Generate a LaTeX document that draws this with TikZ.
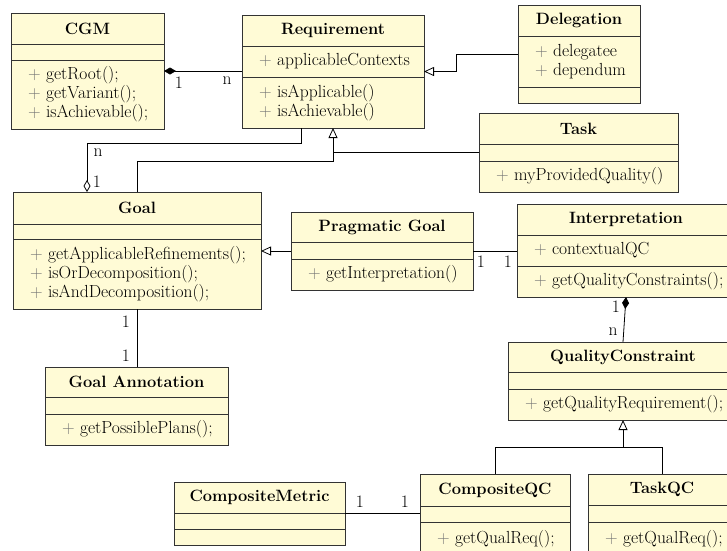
\documentclass[tikz,border=0pt]{standalone}
\usepackage{fontspec}
\usetikzlibrary{arrows.meta}
\definecolor{boxfill}{HTML}{FFFBD6}
\definecolor{boxline}{HTML}{333333}
\newcommand\bxplus{{\color{black!55}+}\ }
\newcommand\classbox[5]{%
  \def\bxn{#1}\def\bxl{#2}\def\bxt{#3}\def\bxr{#4}\def\bxb{#5}%
  \pgfmathsetmacro\bxw{#4-#2}\pgfmathsetmacro\bxh{#5-#3}%
  \node[classrect, minimum width=\bxw pt, minimum height=\bxh pt, anchor=north west] (#1) at (#2,#3) {};}
\newcommand\compart[5]{%
  \draw[sepline] (\bxl,#1) -- (\bxr,#1);
  \draw[sepline] (\bxl,#2) -- (\bxr,#2);
  \pgfmathsetmacro\bxtx{(\bxl+\bxr)/2}\pgfmathsetmacro\bxty{(\bxt+#1)/2}%
  \node[titletext] (\bxn-title) at (\bxtx,\bxty) {#3};
  \pgfmathsetmacro\bxay{(#1+#2)/2}\pgfmathsetmacro\bxoy{(#2+\bxb)/2}\pgfmathsetmacro\bxmx{\bxl+17}%
  \if\relax\detokenize{#4}\relax\else\node[membertext] (\bxn-attr) at (\bxmx,\bxay) {#4};\fi
  \if\relax\detokenize{#5}\relax\else\node[membertext] (\bxn-ops) at (\bxmx,\bxoy) {#5};\fi}
\begin{document}
\begin{tikzpicture}[x=1pt,y=-1pt, font=\fontsize{17.5}{19}\selectfont,
  classrect/.style={draw=boxline, fill=boxfill, line width=0.9pt, inner sep=0pt, outer sep=0pt, rectangle},
  sepline/.style={draw=boxline, line width=0.9pt},
  titletext/.style={font=\fontsize{16.4}{19}\selectfont\bfseries, inner sep=0pt},
  membertext/.style={align=left, anchor=west, inner sep=0pt},
  conn/.style={draw=black, line width=0.8pt},
  gen/.style={conn, -{Triangle[open, length=10pt, width=9pt]}},
  aggr/.style={conn, -{Diamond[open, length=12pt, width=7pt]}},
  compo/.style={conn, {Diamond[length=12pt, width=7pt]}-},
  mult/.style={inner sep=0pt}]
\useasboundingbox (0,0) rectangle (727,550);
\clip (0,0) rectangle (727,550);
\fill[white] (0,0) rectangle (727,550);

\classbox{cgm}{11}{13}{164}{129}\compart{44}{60}{CGM}{}{\bxplus getRoot();\\\bxplus getVariant();\\\bxplus isAchievable();}
\classbox{req}{242}{15}{424}{128}\compart{46}{77}{Requirement}{\bxplus applicableContexts}{\bxplus isApplicable()\\\bxplus isAchievable()}
\classbox{del}{518}{5}{640}{103}\compart{36}{87}{Delegation}{\bxplus delegatee\\\bxplus dependum}{}
\classbox{task}{479}{113}{678}{192}\compart{144}{161}{Task}{}{\bxplus myProvidedQuality()}
\classbox{goal}{13}{192}{261}{309}\compart{224}{239}{Goal}{}{\bxplus getApplicableRefinements();\\\bxplus isOrDecomposition();\\\bxplus isAndDecomposition();}
\classbox{ga}{45}{367}{228}{445}\compart{397}{414}{Goal Annotation}{}{\bxplus getPossiblePlans();}
\classbox{pg}{291}{212}{473}{290}\compart{242}{259}{Pragmatic Goal}{}{\bxplus getInterpretation()}
\classbox{interp}{517}{204}{735}{297}\compart{235}{266}{Interpretation}{\bxplus contextualQC}{\bxplus getQualityConstraints();}
\classbox{qc}{508}{342}{738}{420}\compart{372}{389}{QualityConstraint}{}{\bxplus getQualityRequirement();}
\classbox{cm}{174}{482}{345}{545}\compart{513}{529}{CompositeMetric}{}{}
\classbox{cqc}{420}{474}{570}{556}\compart{506}{522}{CompositeQC}{}{\bxplus getQualReq();}
\classbox{tqc}{588}{474}{736}{556}\compart{505}{522}{TaskQC}{}{\bxplus getQualReq();}

% connectors
\draw[compo] (cgm.east) -- (cgm.east -| req.west);
\node[mult] (m1) at (179,83) {1};
\node[mult] (m2) at (227,81) {n};

\draw[gen] (del.west) -- ([xshift=-62pt]del.west) |- (req.east);

\draw[gen] (goal.north) -- ++(0,-31) -| (req.south);
\draw[conn] (task.west) -- (task.west -| req.south);

\draw[aggr] ([xshift=-32pt]req.south) -- ++(0,15) -| ([xshift=-50pt]goal.north);
\node[mult] (m3) at (98,153) {n};
\node[mult] (m4) at (97,182) {1};

\draw[conn] (goal.south) -- (goal.south |- ga.north);
\node[mult] (m5) at (126,322) {1};
\node[mult] (m6) at (126,356) {1};

\draw[gen] (pg.west) -- (pg.west -| goal.east);
\draw[conn] (pg.east) -- (pg.east -| interp.west);
\node[mult] (m7) at (481,262) {1};
\node[mult] (m8) at (508,262) {1};

\draw[compo] (interp.south) -- (qc.north);
\node[mult] (m9) at (616,307) {1};
\node[mult] (m10) at (613,332) {n};

\coordinate (j2) at (0,447);
\draw[conn] (cqc.north) |- (j2 -| tqc.north) -- (tqc.north);
\draw[gen] (j2 -| qc.south) -- (qc.south);

\draw[conn] (cm.east) -- (cm.east -| cqc.west);
\node[mult] (m11) at (360,502) {1};
\node[mult] (m12) at (405,502) {1};
\end{tikzpicture}
\end{document}
